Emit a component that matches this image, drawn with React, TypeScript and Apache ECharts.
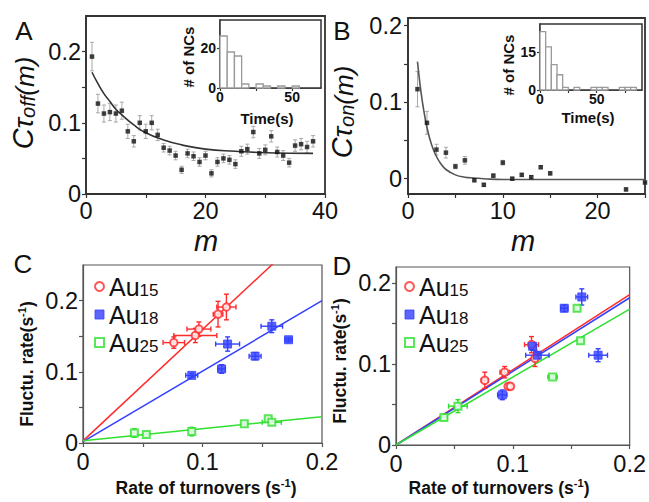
import React, { useEffect, useRef } from 'react';
import * as echarts from 'echarts';

const FONT = "'Liberation Sans', Arial, sans-serif";

// ---------- Panel A : C_tau_off(m) ----------
const mA = [1,2,3,4,5,6,7,8,9,10,11,12,13,14,15,16,17,18,19,20,21,22,23,24,25,26,27,28,29,30,31,32,33,34,35,36,37,38];
const cA = [0.193,0.127,0.113,0.115,0.113,0.117,0.088,0.074,0.100,0.088,0.100,0.083,
  0.065,0.061,0.054,0.034,0.057,0.053,0.045,0.054,0.029,0.045,0.050,0.048,0.042,
  0.060,0.063,0.087,0.057,0.062,0.081,0.059,0.054,0.044,0.068,0.070,0.066,0.074];
const errA = [0.020,0.013,0.012,0.012,0.012,0.012,0.010,0.008,0.010,0.010,0.010,0.008,
  0.006,0.006,0.006,0.005,0.006,0.006,0.006,0.006,0.005,0.006,0.006,0.006,0.006,
  0.007,0.007,0.008,0.007,0.007,0.008,0.007,0.007,0.006,0.008,0.008,0.008,0.008];
const fitAm = [1,2,3,4,5,6,8,10,13,16,20,25,30,38];
const fitAc = [0.171,0.155,0.141,0.130,0.119,0.111,0.097,0.086,0.076,0.069,0.063,0.060,0.058,0.057];

// inset A histogram (bin start, count)
const histAStart = [0,5,10,15,20,25,30,35,40,45,50];
const histACount = [26,18,16,2,0,2,1,0,1,0,1];

// ---------- Panel B : C_tau_on(m) ----------
const mB = [1,2,3,4,5,6,7,8,9,10,11,12,13,14,15,23,25];
const cB = [0.117,0.073,0.038,0.034,0.016,0.024,-0.002,-0.008,0.004,0.021,0.000,0.005,0.002,0.015,0.007,-0.014,-0.005];
const errB = [0.023,0.015,0.007,0.007,0.003,0.005,0.002,0.002,0.002,0.003,0.002,0.002,0.002,0.002,0.002,0.002,0.002];
const fitBm = [1,1.25,1.5,1.75,2,2.5,3,3.5,4,5,6,7,8,10,25];
const fitBc = [0.153,0.125,0.102,0.083,0.067,0.044,0.029,0.019,0.012,0.005,0.002,0.001,0.000,-0.001,-0.001];

const histBStart = [0,5,10,15,20,25,30,35,40,45,50,55,60,65,70,75,80];
const histBCount = [23,17,10,6,1,0,1,0,0,1,1,1,0,0,1,1,1];

// ---------- Panel C : [rate of turnovers, fluctuation rate, xErr, yErr] ----------
const au15C = [[0.076,0.141,0.009,0.008],[0.094,0.151,0.018,0.010],[0.097,0.160,0.010,0.010],[0.113,0.181,0.004,0.018],[0.120,0.191,0.008,0.018]];
const au18C = [[0.091,0.095,0.005,0.003],[0.116,0.104,0.003,0.006],[0.121,0.139,0.010,0.010],[0.144,0.122,0.005,0.005],[0.158,0.164,0.009,0.009],[0.172,0.145,0.003,0.003]];
const au25C = [[0.043,0.014,0.002,0.006],[0.053,0.012,0.002,0.003],[0.091,0.016,0.002,0.006],[0.135,0.027,0.002,0.002],[0.155,0.034,0.002,0.003],[0.158,0.029,0.008,0.003]];
const fitC15 = [[0,0.003],[0.2,0.316]];
const fitC18 = [[0,0.002],[0.2,0.200]];
const fitC25 = [[0,0.003],[0.2,0.037]];

// ---------- Panel D ----------
const au15D = [[0.076,0.080,0.003,0.010],[0.093,0.090,0.004,0.007],[0.096,0.0725,0.002,0.003],[0.098,0.0725,0.002,0.003],[0.116,0.124,0.006,0.010],[0.119,0.107,0.002,0.010]];
const au18D = [[0.091,0.062,0.004,0.006],[0.117,0.122,0.003,0.005],[0.121,0.111,0.010,0.004],[0.144,0.169,0.003,0.004],[0.159,0.183,0.005,0.010],[0.173,0.111,0.008,0.008]];
const au25D = [[0.041,0.034,0.003,0.003],[0.053,0.048,0.008,0.008],[0.134,0.084,0.004,0.002],[0.155,0.169,0.002,0.003],[0.158,0.129,0.002,0.003]];
const fitD15 = [[0,0],[0.2,0.186]];
const fitD18 = [[0,0],[0.2,0.182]];
const fitD25 = [[0,0],[0.2,0.168]];

const seriesNames = ['Au15', 'Au18', 'Au25'];

const RED = '#ff2a2a';
const BLUE = '#3340ff';
const GREEN = '#2fe02f';

function errBars(data: number[][], xi: number, color: string, cap: number, lw: number, z = 2) {
  return {
    type: 'custom',
    xAxisIndex: xi,
    yAxisIndex: xi,
    data,
    silent: true,
    z,
    encode: { x: 0, y: 1 },
    renderItem: (params: any, api: any) => {
      const x = api.value(0), y = api.value(1), xe = api.value(2), ye = api.value(3);
      const st = { stroke: color, lineWidth: lw };
      const ch: any[] = [];
      const ln = (x1: number, y1: number, x2: number, y2: number) =>
        ch.push({ type: 'line', shape: { x1, y1, x2, y2 }, style: st });
      if (ye > 0) {
        const a = api.coord([x, y - ye]);
        const b = api.coord([x, y + ye]);
        ln(a[0], a[1], b[0], b[1]);
        ln(a[0] - cap, a[1], a[0] + cap, a[1]);
        ln(b[0] - cap, b[1], b[0] + cap, b[1]);
      }
      if (xe > 0) {
        const a = api.coord([x - xe, y]);
        const b = api.coord([x + xe, y]);
        ln(a[0], a[1], b[0], b[1]);
        ln(a[0], a[1] - cap, a[0], a[1] + cap);
        ln(b[0], b[1] - cap, b[0], b[1] + cap);
      }
      return { type: 'group', children: ch };
    },
  };
}

function histSeries(starts: number[], counts: number[], idx: number, width: number) {
  return {
    type: 'custom',
    xAxisIndex: idx,
    yAxisIndex: idx,
    z: 5,
    silent: true,
    data: starts.map((s, i) => [s, s + width, counts[i]]),
    encode: { x: [0, 1], y: 2 },
    renderItem: (params: any, api: any) => {
      const c = api.value(2);
      if (!c) return { type: 'group', children: [] };
      const p0 = api.coord([api.value(0), c]);
      const p1 = api.coord([api.value(1), 0]);
      return {
        type: 'rect',
        shape: { x: p0[0], y: p0[1], width: p1[0] - p0[0], height: p1[1] - p0[1] },
        style: { fill: '#fff', stroke: '#9a9a9a', lineWidth: 1.3 },
      };
    },
  };
}

function axis(gridIndex: number, min: number, max: number, labels: number[], ticks: number[], o: any = {}) {
  const color = o.color || '#333';
  return {
    type: 'value',
    gridIndex,
    min,
    max,
    axisLine: { show: true, onZero: false, lineStyle: { color, width: o.lw || 1.5 } },
    axisTick: { show: true, inside: false, length: o.tickLen || 4, customValues: ticks, lineStyle: { color, width: 1.2 } },
    axisLabel: {
      customValues: labels,
      fontSize: o.fontSize || 23.5,
      fontFamily: FONT,
      fontWeight: o.bold ? 'bold' : 'normal',
      color: '#111',
      margin: o.margin ?? 6,
    },
    splitLine: { show: false },
  };
}

const scatterStyle: any = {
  Au15: { symbol: 'circle', symbolSize: 7.5, itemStyle: { color: '#fff', borderColor: RED, borderWidth: 2 } },
  Au18: { symbol: 'rect', symbolSize: 8, itemStyle: { color: BLUE, borderColor: BLUE, borderWidth: 1 } },
  Au25: { symbol: 'rect', symbolSize: 7, itemStyle: { color: '#fff', borderColor: GREEN, borderWidth: 2 } },
};
const colorOf: any = { Au15: RED, Au18: BLUE, Au25: GREEN };

function panelSeries(idx: number, sets: number[][][], fits: number[][][]) {
  const out: any[] = [];
  seriesNames.forEach((n, k) => {
    out.push({
      type: 'line', xAxisIndex: idx, yAxisIndex: idx, data: fits[k], symbol: 'none', silent: true,
      lineStyle: { color: colorOf[n], width: 1.5 }, z: 2, clip: true,
    });
    out.push(errBars(sets[k], idx, colorOf[n], 2.5, 1.4, 3));
    out.push({
      type: 'scatter', name: n, xAxisIndex: idx, yAxisIndex: idx, z: 4,
      data: sets[k].map((d) => [d[0], d[1]]),
      ...scatterStyle[n],
    });
  });
  return out;
}

function legendFor(left: number) {
  return {
    orient: 'vertical',
    left,
    top: 269,
    itemWidth: 9,
    itemHeight: 9,
    itemGap: 3,
    selectedMode: false,
    data: seriesNames.map((n) => ({
      name: n,
      icon: scatterStyle[n].symbol,
      itemStyle: scatterStyle[n].itemStyle,
    })),
    formatter: (n: string) => `{a|Au}{b|${n.slice(2)}}`,
    textStyle: {
      rich: {
        a: { fontSize: 25, fontFamily: FONT, color: '#111', lineHeight: 25, verticalAlign: 'bottom' },
        b: { fontSize: 17, fontFamily: FONT, color: '#111', lineHeight: 12, verticalAlign: 'bottom' },
      },
    },
  };
}

const txt = (text: string, x: number, y: number, style: any, rotation = 0) => ({
  type: 'text',
  x,
  y,
  rotation,
  z: 100,
  style: { text, fontFamily: FONT, fill: '#111', align: 'center', verticalAlign: 'middle', ...style },
});

const richYTitle = (sub: string) => ({
  rich: {
    c: { fontSize: 29, fontStyle: 'italic', fontFamily: FONT, fill: '#111', lineHeight: 29, verticalAlign: 'bottom' },
    t: { fontSize: 28, fontStyle: 'italic', fontFamily: FONT, fill: '#111', lineHeight: 28, verticalAlign: 'bottom' },
    s: { fontSize: 20, fontStyle: 'italic', fontFamily: FONT, fill: '#111', lineHeight: 11, verticalAlign: 'bottom' },
    p: { fontSize: 26, fontStyle: 'italic', fontFamily: FONT, fill: '#111', lineHeight: 26, verticalAlign: 'bottom' },
  },
  text: `{c|C}{t|τ}{s|${sub}}{p|(m)}`,
});

const richBold = (main: string) => ({
  rich: {
    b: { fontSize: 17.5, fontWeight: 'bold', fontFamily: FONT, fill: '#111', lineHeight: 19, verticalAlign: 'bottom' },
    u: { fontSize: 11, fontWeight: 'bold', fontFamily: FONT, fill: '#111', lineHeight: 10, verticalAlign: 'top' },
  },
  text: `{b|${main}(s}{u|-1}{b|)}`,
});

export default function App() {
  const ref = useRef<HTMLDivElement>(null);
  useEffect(() => {
    document.body.style.margin = '0';
    if (!ref.current) return;
    const chart = echarts.init(ref.current, undefined, { renderer: 'svg' });
    const gridBase = (left: number, top: number, width: number, height: number, color: string, bw: number, z = 0) => ({
      left, top, width, height, show: true, borderColor: color, borderWidth: bw, backgroundColor: '#fff', z,
    });
    const option: any = {
      animation: false,
      backgroundColor: '#fff',
      grid: [
        gridBase(86, 16, 239, 178, '#333', 1.8),
        gridBase(408, 18, 237, 176, '#333', 1.8),
        gridBase(83, 265, 239, 178, '#555', 1.2),
        gridBase(396, 267, 239, 178, '#555', 1.2),
        gridBase(220, 20, 101, 68, '#333', 1.5, 3),
        gridBase(540, 24, 102, 66, '#333', 1.5, 3),
      ],
      xAxis: [
        axis(0, 0, 40, [0, 20, 40], [0, 10, 20, 30, 40], { margin: 5 }),
        axis(1, 0, 25, [0, 10, 20], [0, 5, 10, 15, 20, 25], { margin: 5 }),
        axis(2, 0, 0.2, [0, 0.1, 0.2], [0, 0.05, 0.1, 0.15, 0.2], { color: '#555', lw: 1.2, margin: 7 }),
        axis(3, 0, 0.2, [0, 0.1, 0.2], [0, 0.05, 0.1, 0.15, 0.2], { color: '#555', lw: 1.2, margin: 7 }),
        axis(4, 0, 70, [0, 50], [0, 25, 50], { fontSize: 14, bold: true, margin: 2, tickLen: 3 }),
        axis(5, 0, 90, [0, 50], [0, 25, 50, 75], { fontSize: 14, bold: true, margin: 2, tickLen: 3 }),
      ],
      yAxis: [
        axis(0, 0, 0.25, [0, 0.1, 0.2], [0, 0.05, 0.1, 0.15, 0.2], { margin: 5 }),
        axis(1, -0.02, 0.21, [0, 0.1, 0.2], [0, 0.05, 0.1, 0.15, 0.2], { margin: 6 }),
        axis(2, 0, 0.25, [0, 0.1, 0.2], [0, 0.05, 0.1, 0.15, 0.2], { color: '#555', lw: 1.2, margin: 5 }),
        axis(3, 0, 0.22, [0, 0.1, 0.2], [0, 0.05, 0.1, 0.15, 0.2], { color: '#555', lw: 1.2, margin: 5 }),
        axis(4, 0, 34, [0, 20], [0, 20], { fontSize: 14, bold: true, margin: 4, tickLen: 3 }),
        axis(5, 0, 26, [0, 15], [0, 15], { fontSize: 14, bold: true, margin: 4, tickLen: 3 }),
      ],
      legend: [legendFor(89), legendFor(399)],
      series: [
        // Panel A
        errBars(mA.map((m, i) => [m, cA[i], 0, errA[i]]), 0, '#a8a8a8', 2, 1, 2),
        {
          type: 'line', xAxisIndex: 0, yAxisIndex: 0, smooth: true, symbol: 'none', silent: true,
          data: fitAm.map((m, i) => [m, fitAc[i]]), lineStyle: { color: '#333', width: 1.6 }, z: 3,
        },
        {
          type: 'scatter', xAxisIndex: 0, yAxisIndex: 0, symbol: 'rect', symbolSize: 4.5, z: 4,
          data: mA.map((m, i) => [m, cA[i]]), itemStyle: { color: '#111' },
        },
        // Panel B
        errBars(mB.map((m, i) => [m, cB[i], 0, errB[i]]), 1, '#a8a8a8', 2, 1, 2),
        {
          type: 'line', xAxisIndex: 1, yAxisIndex: 1, smooth: true, symbol: 'none', silent: true,
          data: fitBm.map((m, i) => [m, fitBc[i]]), lineStyle: { color: '#555', width: 1.6 }, z: 3,
        },
        {
          type: 'scatter', xAxisIndex: 1, yAxisIndex: 1, symbol: 'rect', symbolSize: 4.5, z: 4, clip: true,
          data: mB.map((m, i) => [m, cB[i]]), itemStyle: { color: '#111' },
        },
        // Insets
        histSeries(histAStart, histACount, 4, 5),
        histSeries(histBStart, histBCount, 5, 5),
        // Panels C & D
        ...panelSeries(2, [au15C, au18C, au25C], [fitC15, fitC18, fitC25]),
        ...panelSeries(3, [au15D, au18D, au25D], [fitD15, fitD18, fitD25]),
      ],
      graphic: [
        txt('A', 24, 31, { fontSize: 26 }),
        txt('B', 342, 31, { fontSize: 26 }),
        txt('C', 23, 264, { fontSize: 26 }),
        txt('D', 342, 266, { fontSize: 26 }),
        txt('m', 206, 241, { fontSize: 29, fontStyle: 'italic' }),
        txt('m', 523, 241, { fontSize: 29, fontStyle: 'italic' }),
        txt('', 23, 103, richYTitle('off'), Math.PI / 2),
        txt('', 342, 112, richYTitle('on'), Math.PI / 2),
        txt('', 206, 487, richBold('Rate of turnovers ')),
        txt('', 499, 487, richBold('Rate of turnovers ')),
        txt('', 26, 364, richBold('Fluctu. rate'), Math.PI / 2),
        txt('', 339, 361, richBold('Fluctu. rate'), Math.PI / 2),
        txt('# of NCs', 188, 57, { fontSize: 15, fontWeight: 'bold' }, Math.PI / 2),
        txt('Time(s)', 267, 118, { fontSize: 15, fontWeight: 'bold' }),
        txt('# of NCs', 508, 65, { fontSize: 15, fontWeight: 'bold' }, Math.PI / 2),
        txt('Time(s)', 588, 117, { fontSize: 15, fontWeight: 'bold' }),
      ],
    };
    chart.setOption(option);
    return () => chart.dispose();
  }, []);
  return <div ref={ref} style={{ width: 649, height: 502 }} />;
}
